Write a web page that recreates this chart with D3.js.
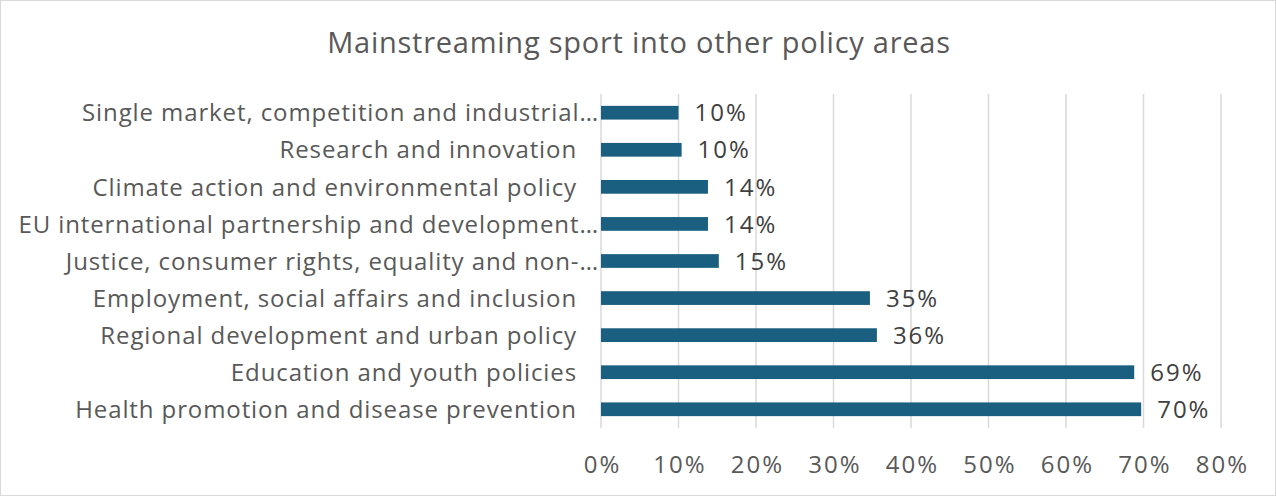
<!DOCTYPE html>
<html>
<head>
<meta charset="utf-8">
<script src="https://cdn.jsdelivr.net/npm/d3@7"></script>
<style>
  html, body { margin: 0; padding: 0; background: #fff; }
  svg { display: block; font-family: "Open Sans", "Liberation Sans", Arial, sans-serif; }
</style>
</head>
<body>
<div id="chart"></div>
<script>
// chart data, top to bottom
const categories = [
  "Single market, competition and industrial…",
  "Research and innovation",
  "Climate action and environmental policy",
  "EU international partnership and development…",
  "Justice, consumer rights, equality and non-…",
  "Employment, social affairs and inclusion",
  "Regional development and urban policy",
  "Education and youth policies",
  "Health promotion and disease prevention"
];
const values = [10.0, 10.4, 13.8, 13.8, 15.2, 34.7, 35.6, 68.8, 69.7];
const ticks = [0, 10, 20, 30, 40, 50, 60, 70, 80];

const width = 1276, height = 496;
const margin = { top: 94, right: 55, bottom: 68, left: 601 };

const svg = d3.select("#chart").append("svg")
  .attr("width", width)
  .attr("height", height);

// outer border
svg.append("rect")
  .attr("x", 0.5).attr("y", 0.5)
  .attr("width", width - 1).attr("height", height - 1)
  .attr("fill", "#fff")
  .attr("stroke", "#d9d9d9");

svg.append("text")
  .attr("x", 639).attr("y", 53)
  .attr("text-anchor", "middle")
  .attr("fill", "#595959")
  .style("font-size", "29px")
  .style("letter-spacing", "0.75px")
  .text("Mainstreaming sport into other policy areas");

const x = d3.scaleLinear()
  .domain([0, 80])
  .range([margin.left, width - margin.right]);

const y = d3.scaleBand()
  .domain(categories)
  .range([margin.top, height - margin.bottom])
  .paddingInner(0.63)
  .paddingOuter(0.32);

// gridlines
svg.append("g")
  .selectAll("line")
  .data(ticks)
  .enter()
  .append("line")
  .attr("x1", d => x(d)).attr("x2", d => x(d))
  .attr("y1", margin.top).attr("y2", height - margin.bottom)
  .attr("stroke", "#d9d9d9")
  .attr("stroke-width", 1.5);

// x axis tick labels
const xAxis = d3.axisBottom(x)
  .tickValues(ticks)
  .tickFormat(d => d + "%")
  .tickSize(0)
  .tickPadding(0);

const gx = svg.append("g")
  .attr("transform", "translate(1," + (height - margin.bottom) + ")")
  .call(xAxis);
gx.select(".domain").remove();
gx.selectAll("text")
  .attr("dy", null)
  .attr("y", 45)
  .attr("fill", "#595959")
  .style("font-family", "'Open Sans', 'Liberation Sans', Arial, sans-serif")
  .style("font-size", "24px")
  .style("letter-spacing", "2px");

// bars
svg.append("g")
  .selectAll("rect")
  .data(values)
  .enter()
  .append("rect")
  .attr("x", x(0))
  .attr("y", (d, i) => y(categories[i]))
  .attr("width", d => x(d) - x(0))
  .attr("height", y.bandwidth())
  .attr("fill", "#1a5e80");

// value labels
svg.append("g")
  .selectAll("text")
  .data(values)
  .enter()
  .append("text")
  .attr("x", d => x(d) + 16)
  .attr("y", (d, i) => y(categories[i]) + y.bandwidth() / 2)
  .attr("dy", "0.36em")
  .attr("fill", "#404040")
  .style("font-size", "24px")
  .style("letter-spacing", "2px")
  .text(d => Math.round(d) + "%");

// category labels
svg.append("g")
  .selectAll("text")
  .data(categories)
  .enter()
  .append("text")
  .attr("x", d => d.endsWith("…") ? 599 : 577)
  .attr("y", d => y(d) + y.bandwidth() / 2)
  .attr("dy", "0.36em")
  .attr("text-anchor", "end")
  .attr("fill", "#595959")
  .style("font-size", "24px")
  .style("letter-spacing", "0.9px")
  .text(d => d);
</script>
</body>
</html>
